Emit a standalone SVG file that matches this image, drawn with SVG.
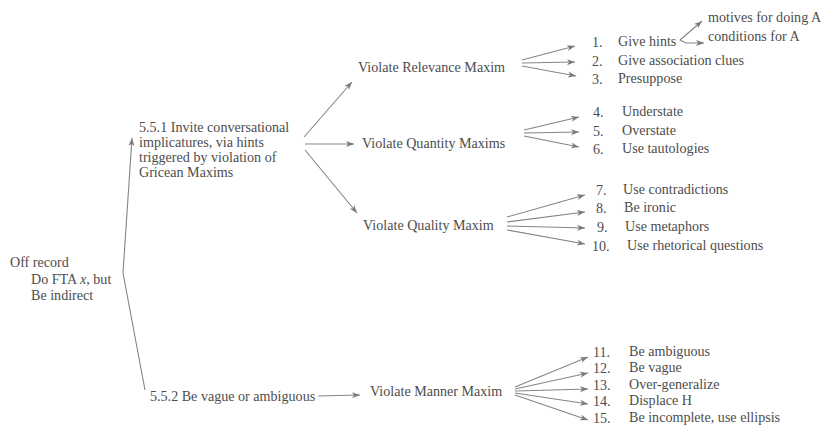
<svg xmlns="http://www.w3.org/2000/svg" width="821" height="432" viewBox="0 0 821 432">
<style>
text{font-family:"Liberation Serif","Times New Roman",serif;font-size:14.1px;fill:#4d4d4d}
.c line,.c polyline{stroke:#858585;stroke-width:1.1;fill:none}
.a{marker-end:url(#ah)}
</style>
<defs>
<marker id="ah" markerUnits="userSpaceOnUse" markerWidth="10" markerHeight="8" refX="8" refY="3.5" orient="auto">
<path d="M0,0.5 L8,3.5 L0,6.5 L2.2,3.5 z" fill="#7a7a7a"/>
</marker>
</defs>
<rect width="821" height="432" fill="#fff"/>
<g class="c" id="connectors">
<polyline class="a" points="145,390 123,273 132,138"/>
<line class="a" x1="304" y1="137" x2="352" y2="82"/>
<line class="a" x1="305" y1="144" x2="354" y2="144"/>
<line class="a" x1="305" y1="150" x2="357" y2="213"/>
<line class="a" x1="522" y1="60" x2="575" y2="46"/>
<line class="a" x1="522" y1="63" x2="575" y2="62"/>
<line class="a" x1="522" y1="66" x2="576" y2="76"/>
<line class="a" x1="524" y1="130" x2="579" y2="117"/>
<line class="a" x1="524" y1="133" x2="579" y2="132"/>
<line class="a" x1="524" y1="136" x2="579" y2="147"/>
<line class="a" x1="507" y1="217" x2="585" y2="195"/>
<line class="a" x1="507" y1="222" x2="585" y2="212"/>
<line class="a" x1="507" y1="226" x2="585" y2="228"/>
<line class="a" x1="507" y1="230" x2="585" y2="244"/>
<line class="a" x1="318" y1="396" x2="360" y2="395"/>
<line class="a" x1="515" y1="387" x2="588" y2="357"/>
<line class="a" x1="515" y1="389" x2="588" y2="373"/>
<line class="a" x1="515" y1="391" x2="588" y2="389"/>
<line class="a" x1="515" y1="393" x2="588" y2="404"/>
<line class="a" x1="515" y1="395" x2="588" y2="420"/>
<polyline class="a" points="680,40 702,21"/>
<polyline class="a" points="680,40 686,43 704,43"/>
</g>
<g id="root">
<text x="10" y="267">Off record</text>
<text x="31" y="284">Do FTA <tspan font-style="italic">x</tspan>, but</text>
<text x="31" y="300">Be indirect</text>
</g>
<g id="n551">
<text x="139" y="132">5.5.1 Invite conversational</text>
<text x="139" y="147">implicatures, via hints</text>
<text x="139" y="162">triggered by violation of</text>
<text x="139" y="177">Gricean Maxims</text>
</g>
<g id="n552"><text x="150" y="401">5.5.2 Be vague or ambiguous</text></g>
<g id="relevance"><text x="358" y="72">Violate Relevance Maxim</text></g>
<g id="quantity"><text x="362" y="148">Violate Quantity Maxims</text></g>
<g id="quality"><text x="363" y="230">Violate Quality Maxim</text></g>
<g id="manner"><text x="370" y="396">Violate Manner Maxim</text></g>
<g id="hints-sub">
<text x="708" y="22">motives for doing A</text>
<text x="708" y="41">conditions for A</text>
</g>
<g id="items">
<text x="592" y="47">1.</text><text x="618" y="46">Give hints</text>
<text x="592" y="66">2.</text><text x="618" y="65">Give association clues</text>
<text x="592" y="84">3.</text><text x="618" y="83">Presuppose</text>
<text x="593" y="117">4.</text><text x="622" y="116">Understate</text>
<text x="593" y="136">5.</text><text x="622" y="135">Overstate</text>
<text x="593" y="154">6.</text><text x="622" y="153">Use tautologies</text>
<text x="596" y="195">7.</text><text x="623" y="194">Use contradictions</text>
<text x="596" y="213">8.</text><text x="624" y="212">Be ironic</text>
<text x="597" y="232">9.</text><text x="625" y="231">Use metaphors</text>
<text x="592" y="251">10.</text><text x="627" y="250">Use rhetorical questions</text>
<text x="593" y="357">11.</text><text x="629" y="356">Be ambiguous</text>
<text x="593" y="373">12.</text><text x="629" y="372">Be vague</text>
<text x="593" y="390">13.</text><text x="629" y="389">Over-generalize</text>
<text x="593" y="406">14.</text><text x="629" y="405">Displace H</text>
<text x="593" y="423">15.</text><text x="629" y="422">Be incomplete, use ellipsis</text>
</g>
</svg>
